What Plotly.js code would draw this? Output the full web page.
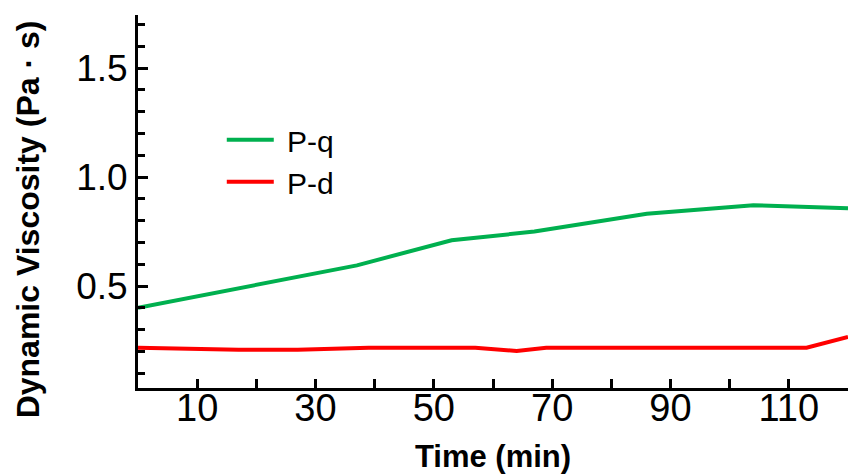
<!DOCTYPE html>
<html>
<head>
<meta charset="utf-8">
<script src="https://cdn.plot.ly/plotly-3.0.1.min.js"></script>
<style>html,body{margin:0;padding:0;background:#fff;}#chart{width:848px;height:474px;}</style>
</head>
<body>
<div id="chart"></div>
<script>
// Data
const timePq = [0, 37, 53, 67, 86, 104, 120];
const viscPq = [0.40, 0.595, 0.71, 0.75, 0.832, 0.871, 0.857];
const timePd = [0, 17, 27, 39, 57, 64, 69, 113, 120];
const viscPd = [0.217, 0.208, 0.208, 0.217, 0.217, 0.202, 0.217, 0.217, 0.266];
const seriesNames = ["P-q", "P-d"];
const xTickVals = [10, 30, 50, 70, 90, 110];
const yTickVals = [0.5, 1.0, 1.5];

const FONT = "Liberation Sans, Arial, sans-serif";

const traces = [
  {x: timePq, y: viscPq, name: "&nbsp;" + seriesNames[0], mode: "lines", type: "scatter",
   line: {color: "#00B04F", width: 4}},
  {x: timePd, y: viscPd, name: "&nbsp;" + seriesNames[1], mode: "lines", type: "scatter",
   line: {color: "#FF0000", width: 4}}
];

const layout = {
  width: 848, height: 474,
  margin: {l: 138, r: 0, t: 15, b: 86},
  paper_bgcolor: "#fff", plot_bgcolor: "#fff",
  font: {family: FONT, color: "#000"},
  showlegend: true,
  legend: {x: 0.118, y: 0.735, xanchor: "left", yanchor: "top",
           font: {family: FONT, size: 30, color: "#000"},
           bgcolor: "rgba(0,0,0,0)", itemwidth: 47, tracegroupgap: 0},
  xaxis: {
    range: [0, 120], showline: true, linewidth: 3, linecolor: "#000",
    showgrid: false, zeroline: false,
    tickvals: xTickVals, ticktext: xTickVals.map(String),
    ticks: "inside", ticklen: 9, tickwidth: 3, tickcolor: "#000",
    tickfont: {family: FONT, size: 38, color: "#000"},
    ticklabelstandoff: -16,
    minor: {dtick: 10, tick0: 0, ticks: "inside", ticklen: 9, tickwidth: 3, tickcolor: "#000", showgrid: false},
    title: {text: "<b>Time (min)</b>", font: {family: FONT, size: 31, color: "#000"}, standoff: 21}
  },
  yaxis: {
    range: [0.032, 1.744], showline: true, linewidth: 3, linecolor: "#000",
    showgrid: false, zeroline: false,
    tickvals: yTickVals, ticktext: yTickVals.map(v => v.toFixed(1)),
    ticks: "inside", ticklen: 10, tickwidth: 3, tickcolor: "#000",
    tickfont: {family: FONT, size: 37, color: "#000"},
    minor: {dtick: 0.1, tick0: 0, ticks: "inside", ticklen: 7, tickwidth: 3, tickcolor: "#000", showgrid: false}
  },
  annotations: [{
    text: "<b>Dynamic Viscosity (Pa · s)</b>", textangle: -90,
    xref: "paper", yref: "paper", x: -0.155, y: 0.452,
    xanchor: "center", yanchor: "middle", showarrow: false,
    font: {family: FONT, size: 32, color: "#000"}
  }]
};

Plotly.newPlot("chart", traces, layout, {displayModeBar: false, staticPlot: true});
</script>
</body>
</html>
